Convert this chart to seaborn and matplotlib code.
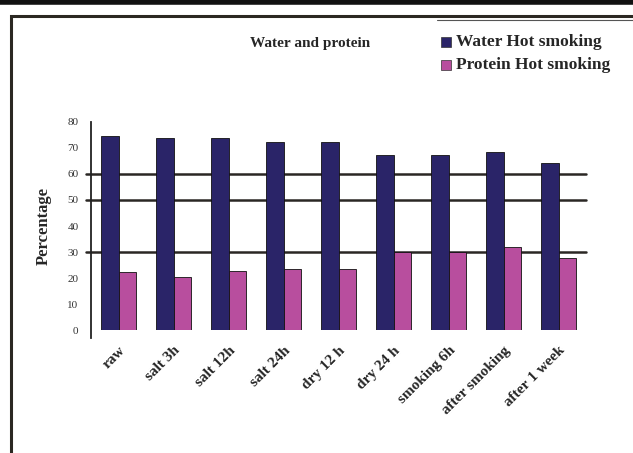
import pandas as pd
import matplotlib.pyplot as plt
import seaborn as sns
from matplotlib.patches import Rectangle
from matplotlib.lines import Line2D

# Values
stages = ['raw', 'salt 3h', 'salt 12h', 'salt 24h', 'dry 12 h', 'dry 24 h',
          'smoking 6h', 'after smoking', 'after 1 week']
water = [74.6, 73.7, 73.7, 72.4, 72.4, 67.3, 67.3, 68.3, 64.2]
protein = [22.4, 20.3, 22.7, 23.3, 23.5, 29.9, 29.9, 31.9, 27.7]
series_names = ['Water Hot smoking', 'Protein Hot smoking']
y_ticks = [0, 10, 20, 30, 40, 50, 60, 70, 80]
grid_levels = [30, 50, 60]

df = pd.DataFrame({
    'Stage': stages * 2,
    'Percentage': water + protein,
    'Series': [series_names[0]] * len(stages) + [series_names[1]] * len(stages),
})

sns.set_style('white')
plt.rcParams['font.family'] = ['Liberation Serif', 'DejaVu Serif']

fig = plt.figure(figsize=(6.33, 4.53), dpi=100)
fig.patch.set_facecolor('white')

# frame around the chart, as in the scanned figure
fig.add_artist(Line2D([0, 1], [0.995, 0.995], transform=fig.transFigure,
                      color='#111111', lw=4))
fig.add_artist(Rectangle((0.018, -0.05), 1.2, 1.015, transform=fig.transFigure,
                         fill=False, edgecolor='#2b2822', lw=2.2))

ax = fig.add_axes([0.1438, 0.2715, 0.782, 0.4592])
palette = {series_names[0]: '#2a2468', series_names[1]: '#b84e9e'}
sns.barplot(data=df, x='Stage', y='Percentage', hue='Series', palette=palette,
            width=0.64, gap=0, saturation=1, ax=ax, zorder=3,
            edgecolor='#111111', linewidth=0.6, legend=False)

for lvl in grid_levels:
    ax.axhline(lvl, color='#2a2724', lw=1.8, zorder=1, xmin=-0.01, clip_on=False)

ax.set_ylim(0, 80)
ax.set_yticks(y_ticks)
ax.set_yticklabels([str(t) for t in y_ticks], fontsize=8, color='#333333')
ax.set_xlim(-0.5, len(stages) - 0.5)
ax.set_xticks(range(len(stages)))
ax.set_xticklabels(stages, rotation=45, ha='right', rotation_mode='anchor',
                   fontsize=11, fontweight='bold')
ax.tick_params(axis='y', length=0, pad=9)
ax.tick_params(axis='x', length=0, pad=10)
ax.set_xlabel('')
ax.set_ylabel('Percentage', fontsize=12, fontweight='bold', labelpad=11)
for side in ['top', 'right', 'bottom']:
    ax.spines[side].set_visible(False)
ax.spines['left'].set_color('#222222')
ax.spines['left'].set_linewidth(1.3)
ax.spines['left'].set_bounds(-3, 80)

fig.text(0.49, 0.905, 'Water and protein', ha='center', va='center',
         fontsize=11, fontweight='bold')

# legend in the top right corner
fig.add_artist(Line2D([0.69, 1.0], [0.955, 0.955], transform=fig.transFigure,
                      color='#555555', lw=0.8))
for i, name in enumerate(series_names):
    y = 0.907 - i * 0.05
    fig.add_artist(Rectangle((0.697, y - 0.011), 0.016, 0.022,
                             transform=fig.transFigure,
                             facecolor=palette[name], edgecolor='#333333', lw=0.5))
    fig.text(0.72, y, name, ha='left', va='center', fontsize=12.5, fontweight='bold')

fig.savefig('out.png', dpi=100)
